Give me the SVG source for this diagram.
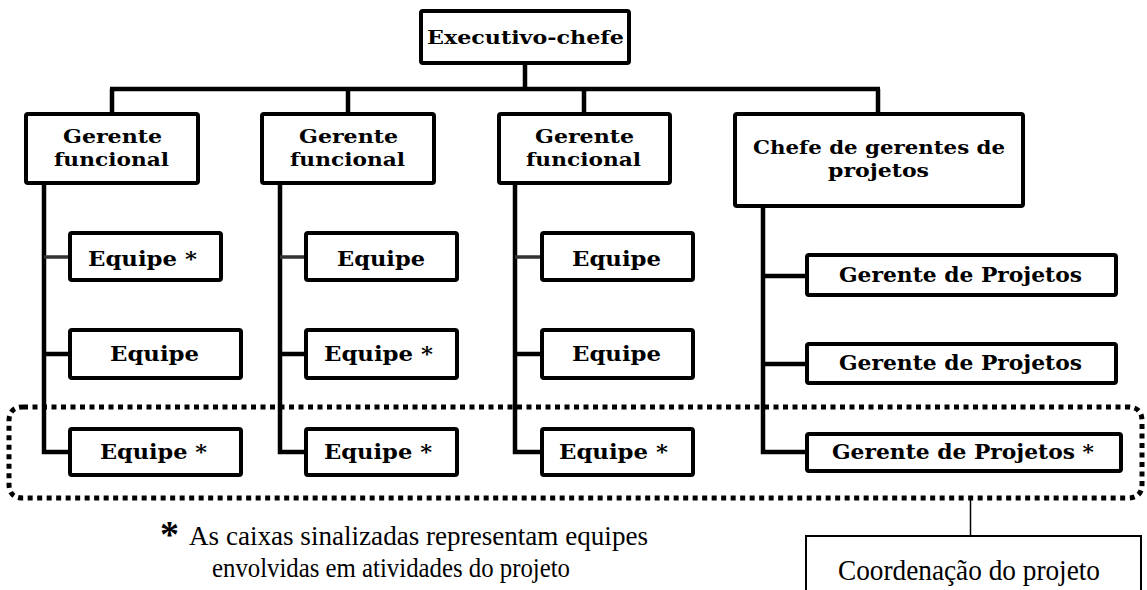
<svg xmlns="http://www.w3.org/2000/svg" width="1147" height="590" viewBox="0 0 1147 590">
<style>
.box{fill:#fff;stroke:#000;stroke-width:4}
.t{font-family:"DejaVu Serif","Liberation Serif",serif;font-weight:bold;fill:#000}
.c{fill:none;stroke:#000;stroke-width:4.5;stroke-linejoin:miter}
.cg{fill:none;stroke:#333;stroke-width:3.5}
.r{font-family:"Times New Roman","Liberation Serif","DejaVu Serif",serif;fill:#000}
</style>
<rect width="1147" height="590" fill="#fff"/>
<g id="connectors">
<path class="c" d="M525 64V89M110 89H880M112 89V113M348 89V113M584 89V113M878 89V113"/>
<path class="c" d="M44 184V452H68M280 184V452H304M515 184V452H540M763 207V452H805"/>
<path class="cg" d="M44 257H68M280 257H304M515 257H540"/>
<path class="c" d="M44 354H68M280 354H304M515 354H540M763 276H805M763 364H805"/>
<path d="M23 407H1128Q1142 407 1142 421V484Q1142 498 1128 498H23Q9 498 9 484V421Q9 407 23 407Z" fill="none" stroke="#000" stroke-width="5" stroke-dasharray="5 4.5"/>
<path d="M970.5 498V536" stroke="#000" stroke-width="1.5"/>
</g>
<g id="exec"><rect class="box" x="421" y="11" width="208" height="52" rx="2"/><text class="t" x="427" y="44" font-size="19" textLength="197" lengthAdjust="spacingAndGlyphs">Executivo-chefe</text></g>
<g id="gf1"><rect class="box" x="26" y="114" width="172" height="69" rx="2"/><text class="t" x="63" y="143" font-size="19" textLength="99" lengthAdjust="spacingAndGlyphs">Gerente</text><text class="t" x="54" y="166" font-size="19" textLength="115" lengthAdjust="spacingAndGlyphs">funcional</text></g>
<g id="gf2"><rect class="box" x="262" y="114" width="172" height="69" rx="2"/><text class="t" x="299" y="143" font-size="19" textLength="99" lengthAdjust="spacingAndGlyphs">Gerente</text><text class="t" x="290" y="166" font-size="19" textLength="115" lengthAdjust="spacingAndGlyphs">funcional</text></g>
<g id="gf3"><rect class="box" x="499" y="114" width="171" height="69" rx="2"/><text class="t" x="535" y="143" font-size="19" textLength="99" lengthAdjust="spacingAndGlyphs">Gerente</text><text class="t" x="526" y="166" font-size="19" textLength="115" lengthAdjust="spacingAndGlyphs">funcional</text></g>
<g id="chefe"><rect class="box" x="735" y="114" width="288" height="92" rx="2"/><text class="t" x="753" y="154" font-size="19" textLength="252" lengthAdjust="spacingAndGlyphs">Chefe de gerentes de</text><text class="t" x="828" y="177" font-size="19" textLength="101" lengthAdjust="spacingAndGlyphs">projetos</text></g>
<g id="e11"><rect class="box" x="70" y="233" width="151" height="47" rx="2"/><text class="t" x="88" y="266" font-size="21" textLength="109" lengthAdjust="spacingAndGlyphs">Equipe *</text></g>
<g id="e12"><rect class="box" x="70" y="330" width="171" height="48" rx="2"/><text class="t" x="110" y="361" font-size="21" textLength="89" lengthAdjust="spacingAndGlyphs">Equipe</text></g>
<g id="e13"><rect class="box" x="70" y="429" width="171" height="46" rx="2"/><text class="t" x="100" y="459" font-size="21" textLength="107" lengthAdjust="spacingAndGlyphs">Equipe *</text></g>
<g id="e21"><rect class="box" x="306" y="233" width="151" height="47" rx="2"/><text class="t" x="337" y="266" font-size="21" textLength="88" lengthAdjust="spacingAndGlyphs">Equipe</text></g>
<g id="e22"><rect class="box" x="306" y="330" width="151" height="48" rx="2"/><text class="t" x="324" y="361" font-size="21" textLength="109" lengthAdjust="spacingAndGlyphs">Equipe *</text></g>
<g id="e23"><rect class="box" x="306" y="429" width="151" height="46" rx="2"/><text class="t" x="324" y="459" font-size="21" textLength="108" lengthAdjust="spacingAndGlyphs">Equipe *</text></g>
<g id="e31"><rect class="box" x="542" y="233" width="151" height="47" rx="2"/><text class="t" x="572" y="266" font-size="21" textLength="89" lengthAdjust="spacingAndGlyphs">Equipe</text></g>
<g id="e32"><rect class="box" x="542" y="330" width="151" height="48" rx="2"/><text class="t" x="572" y="361" font-size="21" textLength="89" lengthAdjust="spacingAndGlyphs">Equipe</text></g>
<g id="e33"><rect class="box" x="542" y="429" width="151" height="46" rx="2"/><text class="t" x="559" y="459" font-size="21" textLength="109" lengthAdjust="spacingAndGlyphs">Equipe *</text></g>
<g id="gp1"><rect class="box" x="807" y="255" width="309" height="40" rx="2"/><text class="t" x="839" y="282" font-size="20" textLength="243" lengthAdjust="spacingAndGlyphs">Gerente de Projetos</text></g>
<g id="gp2"><rect class="box" x="807" y="344" width="309" height="39" rx="2"/><text class="t" x="839" y="370" font-size="20" textLength="243" lengthAdjust="spacingAndGlyphs">Gerente de Projetos</text></g>
<g id="gp3"><rect class="box" x="807" y="434" width="314" height="37" rx="2"/><text class="t" x="832" y="459" font-size="20" textLength="262" lengthAdjust="spacingAndGlyphs">Gerente de Projetos *</text></g>
<g id="coord"><path d="M806 590V536H1141V590" fill="#fff" stroke="#000" stroke-width="2"/><text class="r" x="838" y="580" font-size="29" textLength="262" lengthAdjust="spacingAndGlyphs">Coordenação do projeto</text></g>
<g id="note">
<text class="r" x="160" y="547" font-size="38" font-weight="bold">*</text>
<text class="r" x="189" y="545" font-size="28" textLength="459" lengthAdjust="spacingAndGlyphs">As caixas sinalizadas representam equipes</text>
<text class="r" x="212" y="577" font-size="28" textLength="358" lengthAdjust="spacingAndGlyphs">envolvidas em atividades do projeto</text>
</g>
</svg>
